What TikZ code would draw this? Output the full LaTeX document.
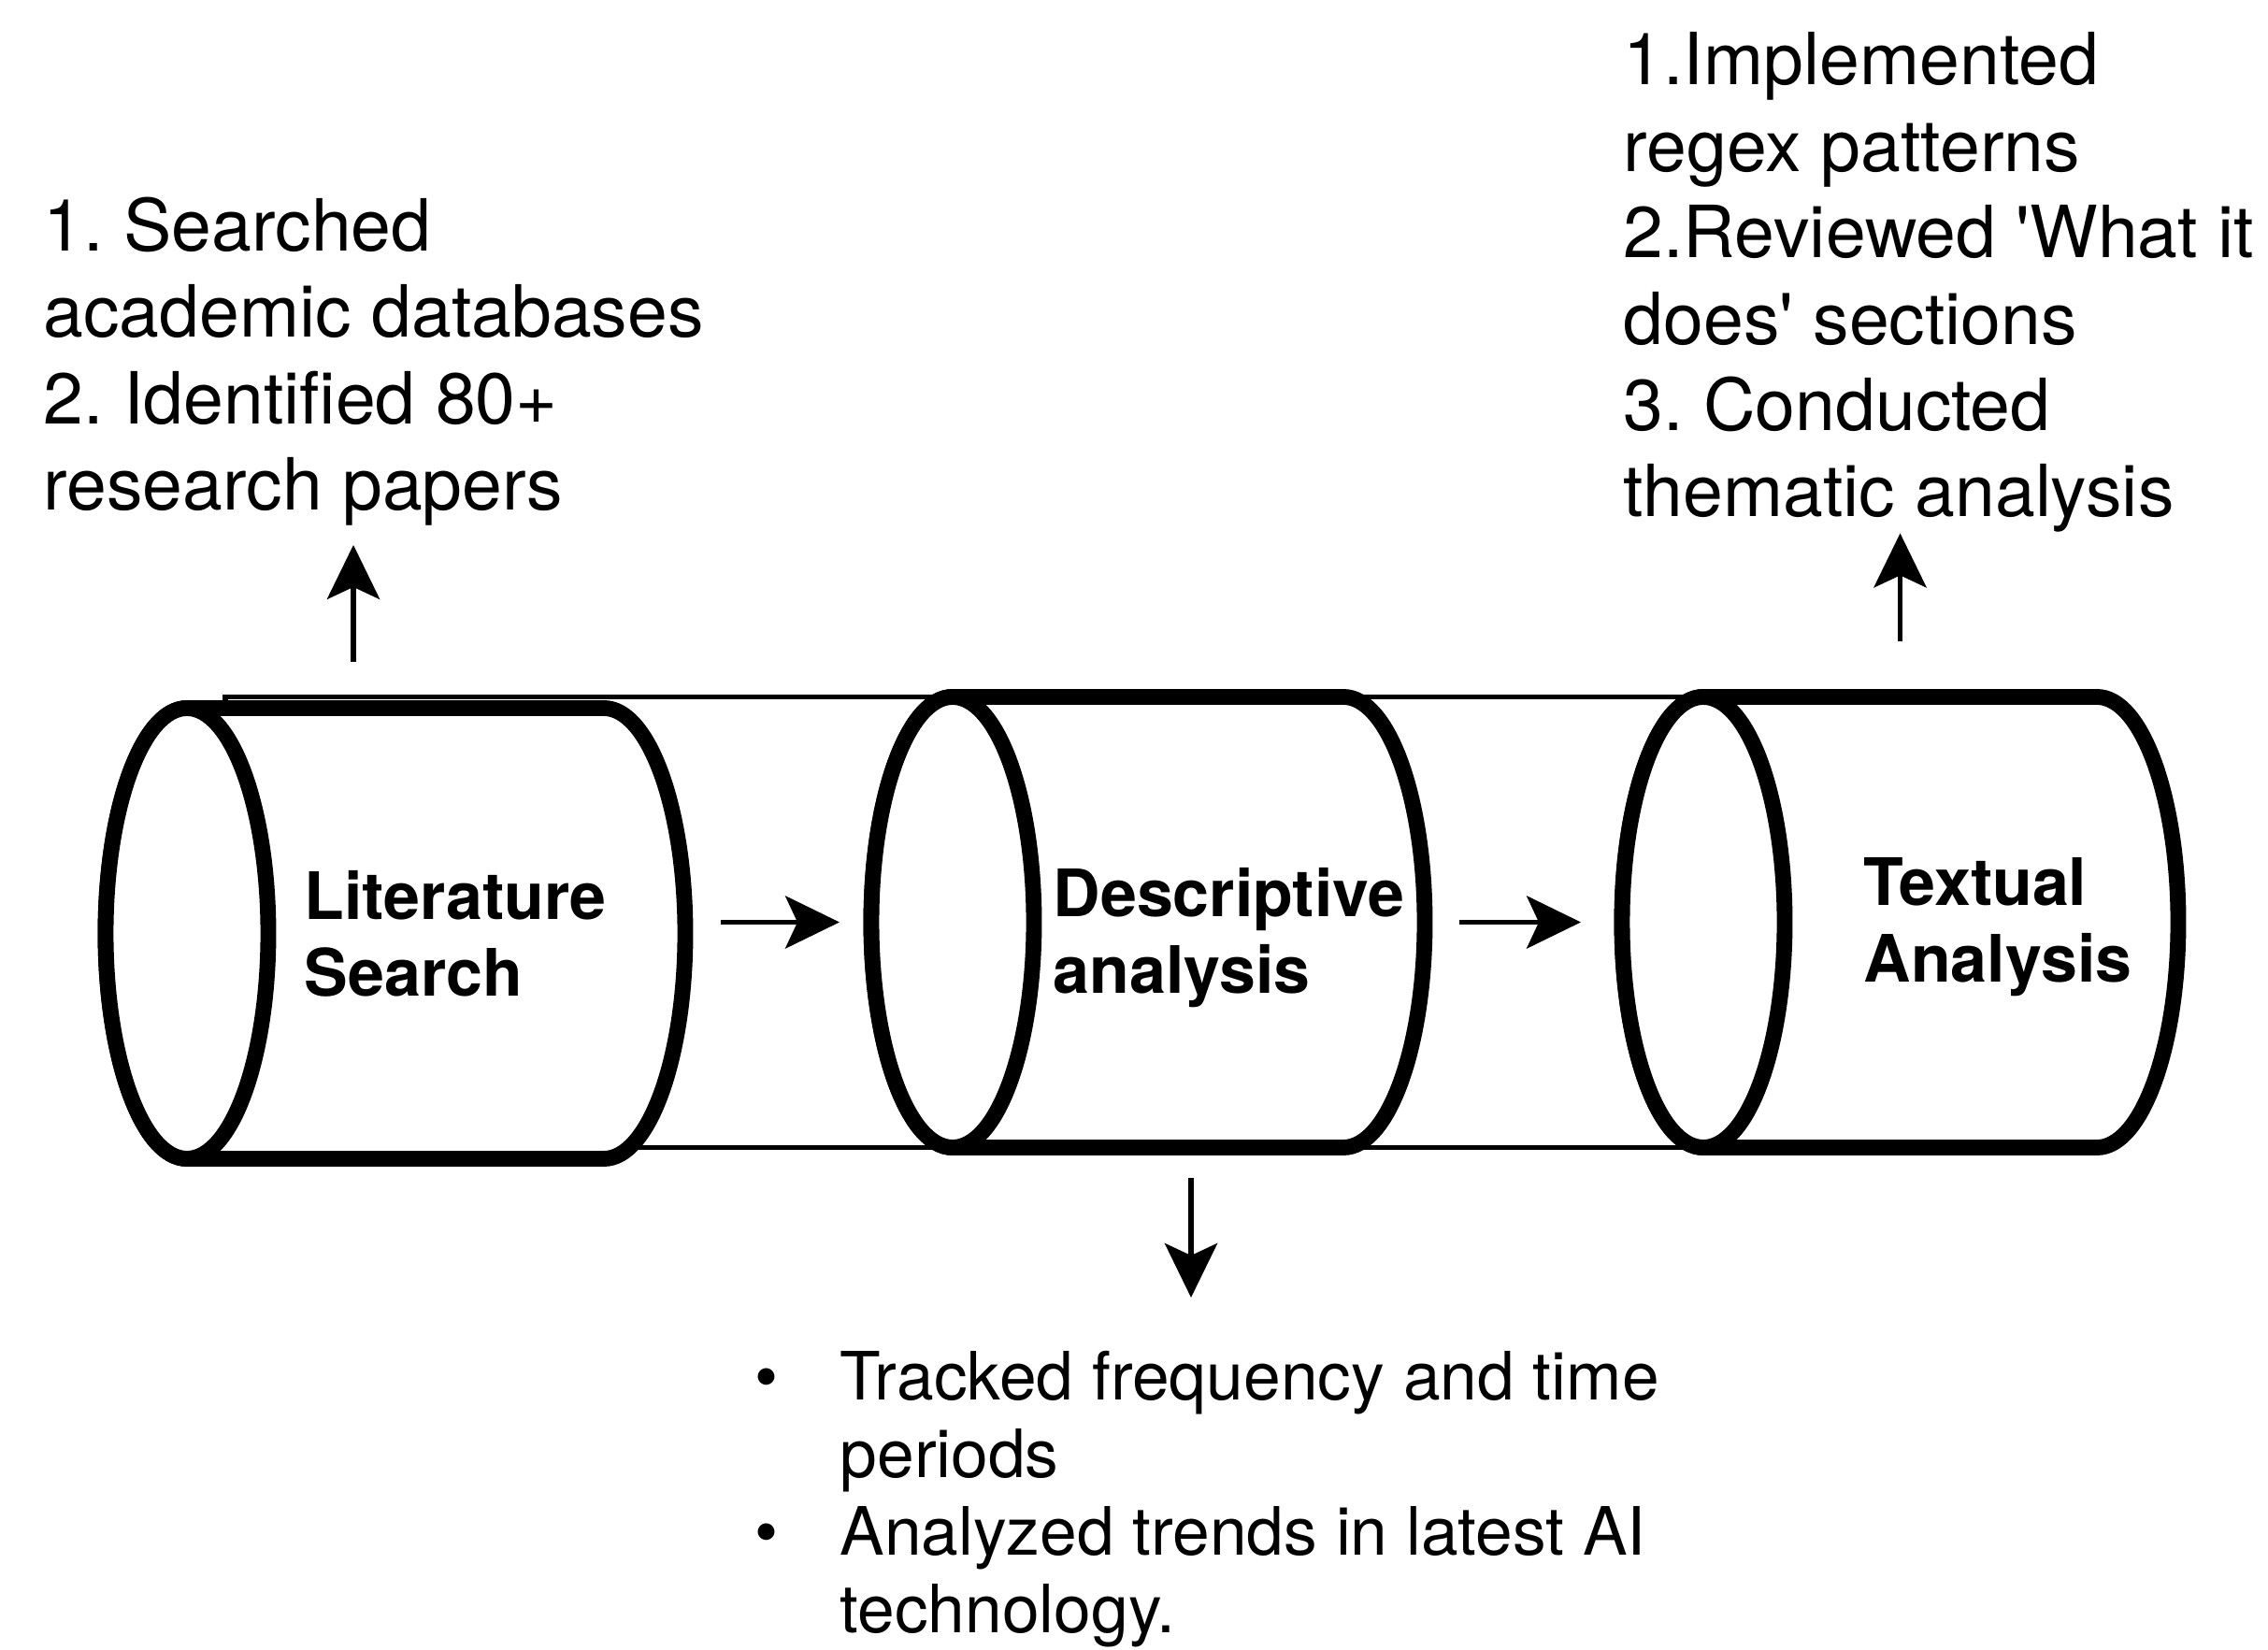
\documentclass[tikz,border=0pt]{standalone}
\usepackage{fontspec}
\setmainfont{TeX Gyre Heros}
\frenchspacing
\usetikzlibrary{positioning, arrows.meta}
\newcommand{\caprx}{0.87cm}
\newcommand{\capry}{2.41cm}
\tikzset{
    stage/.style = {
        rectangle, inner sep = 0pt, outer sep = 0pt,
        minimum height = 4.82cm
    },
    rim/.style = {line width = 4.8pt, line join = round, fill = white},
    stagetext/.style = {
        align = left, inner sep = 0pt, anchor = north west,
        font = \bfseries\fontsize{19.9}{23.3}\selectfont
    },
    note/.style = {
        align = left, inner sep = 0pt, anchor = north west,
        font = \fontsize{21.9}{26.3}\selectfont
    },
    flow/.style = {line width = 1.5pt, -{Stealth[length=16.5pt, width=16pt, inset=3.7pt]}},
    tube/.style = {line width = 1.5pt}
}
\begin{document}
\begin{tikzpicture}
\useasboundingbox (0,0) rectangle (24.26,17.64);

                % Stages (body between the two cap centres)
                \node[stage, minimum width = 4.46cm] (lit) at (4.23,7.655) {};
                \node[stage, minimum width = 4.18cm] (desc) at (12.28,7.775) {};
                \node[stage, minimum width = 4.21cm] (txt) at (20.325,7.775) {};

                % Tube behind the stages
                \draw[tube] ([xshift = -18.2mm]lit.center |- desc.north) rectangle (txt.center |- desc.south);

                % Cylinders
                \foreach \n in {lit, desc, txt} {
                    \filldraw[rim] (\n.north west) -- (\n.north east)
                        arc[start angle = 90, end angle = -90, x radius = \caprx, y radius = \capry]
                        -- (\n.south west)
                        arc[start angle = 270, end angle = 90, x radius = \caprx, y radius = \capry] -- cycle;
                    \draw[rim] (\n.west) ellipse[x radius = \caprx, y radius = \capry];
                }

                \node[stagetext] (littext) at (3.25,8.33) {Literature\\Search};
                \node[stagetext] (desctext) at (11.26,8.36) {Descriptive\\analysis};
                \node[stagetext] (txttext) at (19.93,8.47) {Textual\\Analysis};

                % Notes
                \node[note] (litnote) at (0.46,15.54) {1. Searched\\academic databases\\2. Identified 80+\\research papers};
                \node[note] (txtnote) at (17.36,17.30) {1.Implemented\\regex patterns\\2.Reviewed \textquotesingle What it\\does\textquotesingle{} sections\\3. Conducted\\thematic analysis};
                \node[inner sep = 0pt, anchor = base west, font = \fontsize{20.3}{23.7}\selectfont] (descnote) at (8.07,2.67) {%
                    \begin{tabular}[t]{@{}l@{\hspace{0.66cm}}l@{}}
                        \textbullet & Tracked frequency and time\\
                                    & periods\\
                        \textbullet & Analyzed trends in latest AI\\
                                    & technology.
                    \end{tabular}};

                \coordinate (litup) at ([xshift = -4.5mm]lit.north);
                \coordinate (descdown) at ([xshift = 4.6mm]desc.south);

                \draw[flow, shorten <= 12.5mm, shorten >= 12.1mm] (desc.west -| lit.east) -- (desc.west);
                \draw[flow, shorten <= 12.4mm, shorten >= 13.1mm] (desc.east) -- (desc.east -| txt.west);
                \draw[flow, shorten <= 4.95mm, shorten >= 2mm] (litup) -- (litup |- litnote.south);
                \draw[flow, shorten <= 5.9mm] (txt.north) -- (txt.north |- txtnote.south);
                \draw[flow, shorten <= 3.3mm, shorten >= 5mm] (descdown) -- (descdown |- descnote.north);

\end{tikzpicture}
\end{document}
